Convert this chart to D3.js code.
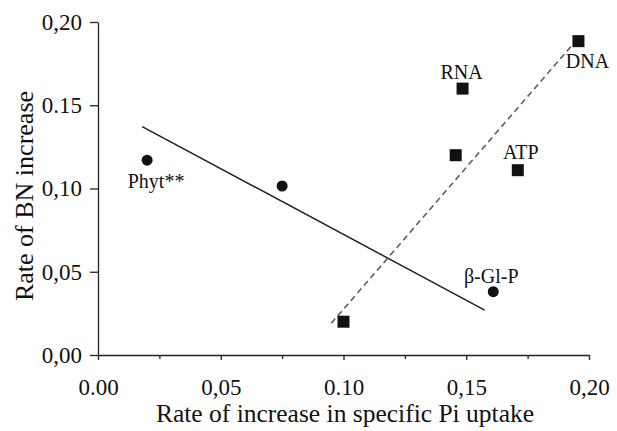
<!DOCTYPE html>
<html><head><meta charset="utf-8">
<script src="https://cdn.jsdelivr.net/npm/d3@7"></script>
<style>body{margin:0;background:#fff}svg{display:block}</style>
</head><body><svg id="c" width="617" height="431"></svg>
<script>
// Data
const circleX = [0.020, 0.075, 0.161];
const circleY = [0.117, 0.1015, 0.038];
const circleLabels = ["Phyt**", "", "β-Gl-P"];
const squareX = [0.100, 0.1485, 0.1457, 0.171, 0.1957];
const squareY = [0.020, 0.160, 0.120, 0.111, 0.1885];
const squareLabels = ["", "RNA", "", "ATP", "DNA"];
const solidLineX = [0.018, 0.1575];
const solidLineY = [0.1372, 0.027];
const dashedLineX = [0.095, 0.196];
const dashedLineY = [0.019, 0.191];
const xTicks = [0, 0.05, 0.10, 0.15, 0.20];
const xTickLabels = ["0.00", "0,05", "0.10", "0,15", "0,20"];
const xMinorTicks = [0.025, 0.075, 0.125, 0.175];
const yTicks = [0, 0.05, 0.10, 0.15, 0.20];
const yTickLabels = ["0,00", "0,05", "0,10", "0.15", "0,20"];
const xTitle = "Rate of increase in specific Pi uptake";
const yTitle = "Rate of BN increase";

const FONT = "'Liberation Serif', 'Times New Roman', Tinos, serif";
const svg = d3.select("#c").attr("font-family", FONT);
const x = d3.scaleLinear().domain([0, 0.2]).range([98, 589]);
const y = d3.scaleLinear().domain([0, 0.2]).range([355, 22]);

// axes
const yAxis = d3.axisLeft(y).tickValues(yTicks).tickFormat((d,i)=>yTickLabels[i]).tickSize(8).tickSizeOuter(0).tickPadding(8);
const gy = svg.append("g").attr("transform", `translate(${x(0)},0)`).call(yAxis);
const xAxis = d3.axisBottom(x).tickValues(xTicks).tickFormat((d,i)=>xTickLabels[i]).tickSize(5).tickSizeOuter(0);
const gx = svg.append("g").attr("transform", `translate(0,${y(0)})`).call(xAxis);
gx.selectAll(".tick text").attr("dy", null).attr("y", 40);
const gxm = svg.append("g").attr("transform", `translate(0,${y(0)})`).call(d3.axisBottom(x).tickValues(xMinorTicks).tickFormat("").tickSize(4).tickSizeOuter(0));
gxm.select(".domain").remove();
[gy, gx, gxm].forEach(g => {
  g.attr("font-family", FONT).attr("font-size", 23);
  g.selectAll("path,line").attr("stroke", "#222").attr("stroke-width", 1.3);
  g.selectAll("text").attr("fill", "#111");
});

// titles
svg.append("text").attr("x", 345).attr("y", 422).attr("text-anchor", "middle")
  .attr("font-size", 25.5).attr("fill", "#111").text(xTitle);
svg.append("text").attr("transform", `translate(33,196) rotate(-90)`).attr("text-anchor", "middle")
  .attr("font-size", 26).attr("fill", "#111").text(yTitle);

// regression lines
const line = d3.line().x(d=>x(d[0])).y(d=>y(d[1]));
svg.append("path").attr("d", line(d3.zip(solidLineX, solidLineY)))
  .attr("stroke", "#222").attr("stroke-width", 1.5).attr("fill", "none");
svg.append("path").attr("d", line(d3.zip(dashedLineX, dashedLineY)))
  .attr("stroke", "#555").attr("stroke-width", 1.5).attr("stroke-dasharray", "6,4").attr("fill", "none");

// points
const circles = d3.zip(circleX, circleY, circleLabels);
svg.selectAll("circle.pt").data(circles).join("circle").attr("class","pt")
  .attr("cx", d=>x(d[0])).attr("cy", d=>y(d[1])).attr("r", 5.5).attr("fill", "#111");
const squares = d3.zip(squareX, squareY, squareLabels);
const s = 12;
svg.selectAll("rect.pt").data(squares).join("rect").attr("class","pt")
  .attr("x", d=>x(d[0])-s/2).attr("y", d=>y(d[1])-s/2).attr("width", s).attr("height", s).attr("fill", "#111");

// labels (baseline offsets relative to their points)
const labelOffsets = {"Phyt**":[9,28], "β-Gl-P":[-2,-9], "RNA":[-1,-10], "ATP":[3,-11], "DNA":[9,27]};
svg.selectAll("text.lab").data(circles.concat(squares).filter(d=>d[2])).join("text").attr("class","lab")
  .attr("x", d=>x(d[0]) + labelOffsets[d[2]][0]).attr("y", d=>y(d[1]) + labelOffsets[d[2]][1])
  .attr("text-anchor", "middle").attr("font-size", 20).attr("fill", "#111").text(d=>d[2]);
</script></body></html>
